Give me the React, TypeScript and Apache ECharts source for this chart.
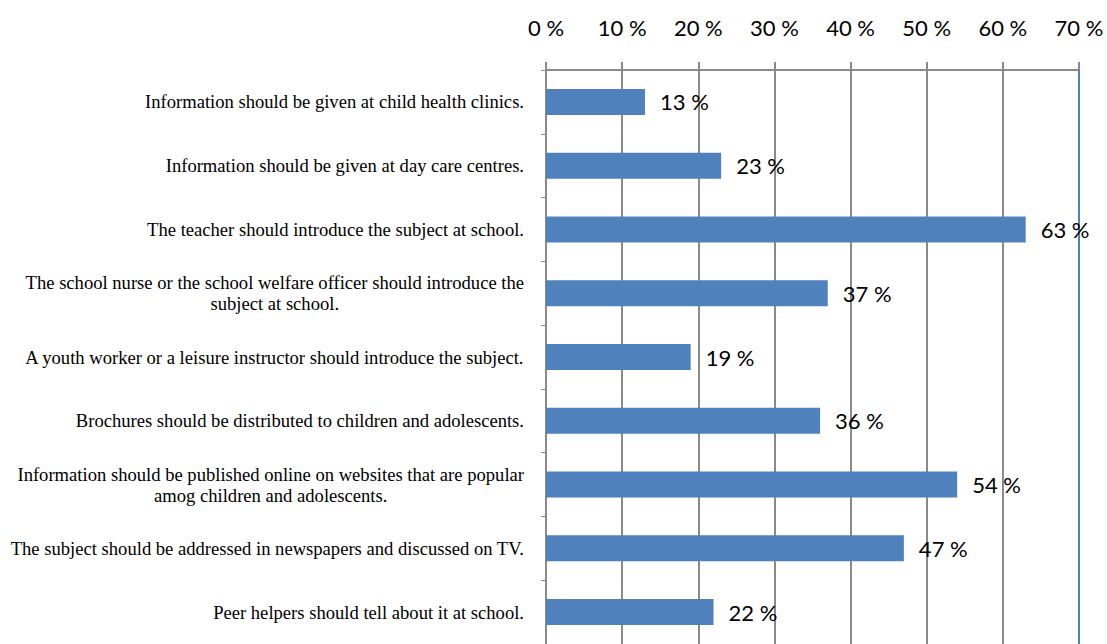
import React, { useEffect, useRef } from "react";
import * as echarts from "echarts";

const categories: string[] = [
  "Information should be given at child health clinics.",
  "Information should be given at day care centres.",
  "The teacher should introduce the subject at school.",
  "The school nurse or the school welfare officer should introduce the\nsubject at school.",
  "A youth worker or a leisure instructor should introduce the subject.",
  "Brochures should be distributed to children and adolescents.",
  "Information should be published online on websites that are popular\namog children and adolescents.",
  "The subject should be addressed in newspapers and discussed on TV.",
  "Peer helpers should tell about it at school.",
];
const values: number[] = [13, 23, 63, 37, 19, 36, 54, 47, 22];
const axisMax = 70;
const axisStep = 10;

export default function App() {
  const ref = useRef<HTMLDivElement>(null);
  useEffect(() => {
    if (!ref.current) return;
    const chart = echarts.init(ref.current, undefined, { renderer: "svg" });
    const gray = "#8a8a8a";
    const splitColors = [gray, gray, gray, gray, gray, gray, gray, "#4F81BD"];
    chart.setOption({
      animation: false,
      grid: { left: 546, right: 28, top: 70, height: 579, containLabel: false },
      xAxis: {
        type: "value",
        position: "top",
        min: 0,
        max: axisMax,
        interval: axisStep,
        axisLine: { show: true, lineStyle: { color: gray, width: 2 } },
        axisTick: { show: true, inside: false, length: 8, lineStyle: { color: gray, width: 2 } },
        axisLabel: {
          formatter: "{value} %",
          fontFamily: "Lato",
          fontSize: 22,
          color: "#000",
          margin: 32,
        },
        splitLine: { show: true, lineStyle: { color: splitColors, width: 2 } },
      },
      yAxis: {
        type: "category",
        inverse: true,
        data: categories,
        axisLine: { show: true, lineStyle: { color: gray, width: 2 } },
        axisTick: { show: true, length: 5, lineStyle: { color: gray, width: 1 } },
        axisLabel: {
          margin: 22,
          formatter: (v: string) =>
            v
              .split("\n")
              .map((l) => `{c|${l}}`)
              .join("\n"),
          rich: {
            c: {
              fontFamily: "Liberation Serif",
              fontSize: 18.6,
              color: "#000",
              align: "center",
              lineHeight: 21,
            },
          },
        },
      },
      series: [
        {
          type: "bar",
          data: values,
          barWidth: 26,
          itemStyle: { color: "#4F81BD" },
          label: {
            show: true,
            position: "right",
            distance: 15,
            formatter: "{c} %",
            fontFamily: "Lato",
            fontSize: 22,
            color: "#000",
          },
        },
      ],
    });
    return () => chart.dispose();
  }, []);
  return (
    <div
      ref={ref}
      style={{ position: "fixed", left: 0, top: 0, width: 1107, height: 644, background: "#fff" }}
    />
  );
}
